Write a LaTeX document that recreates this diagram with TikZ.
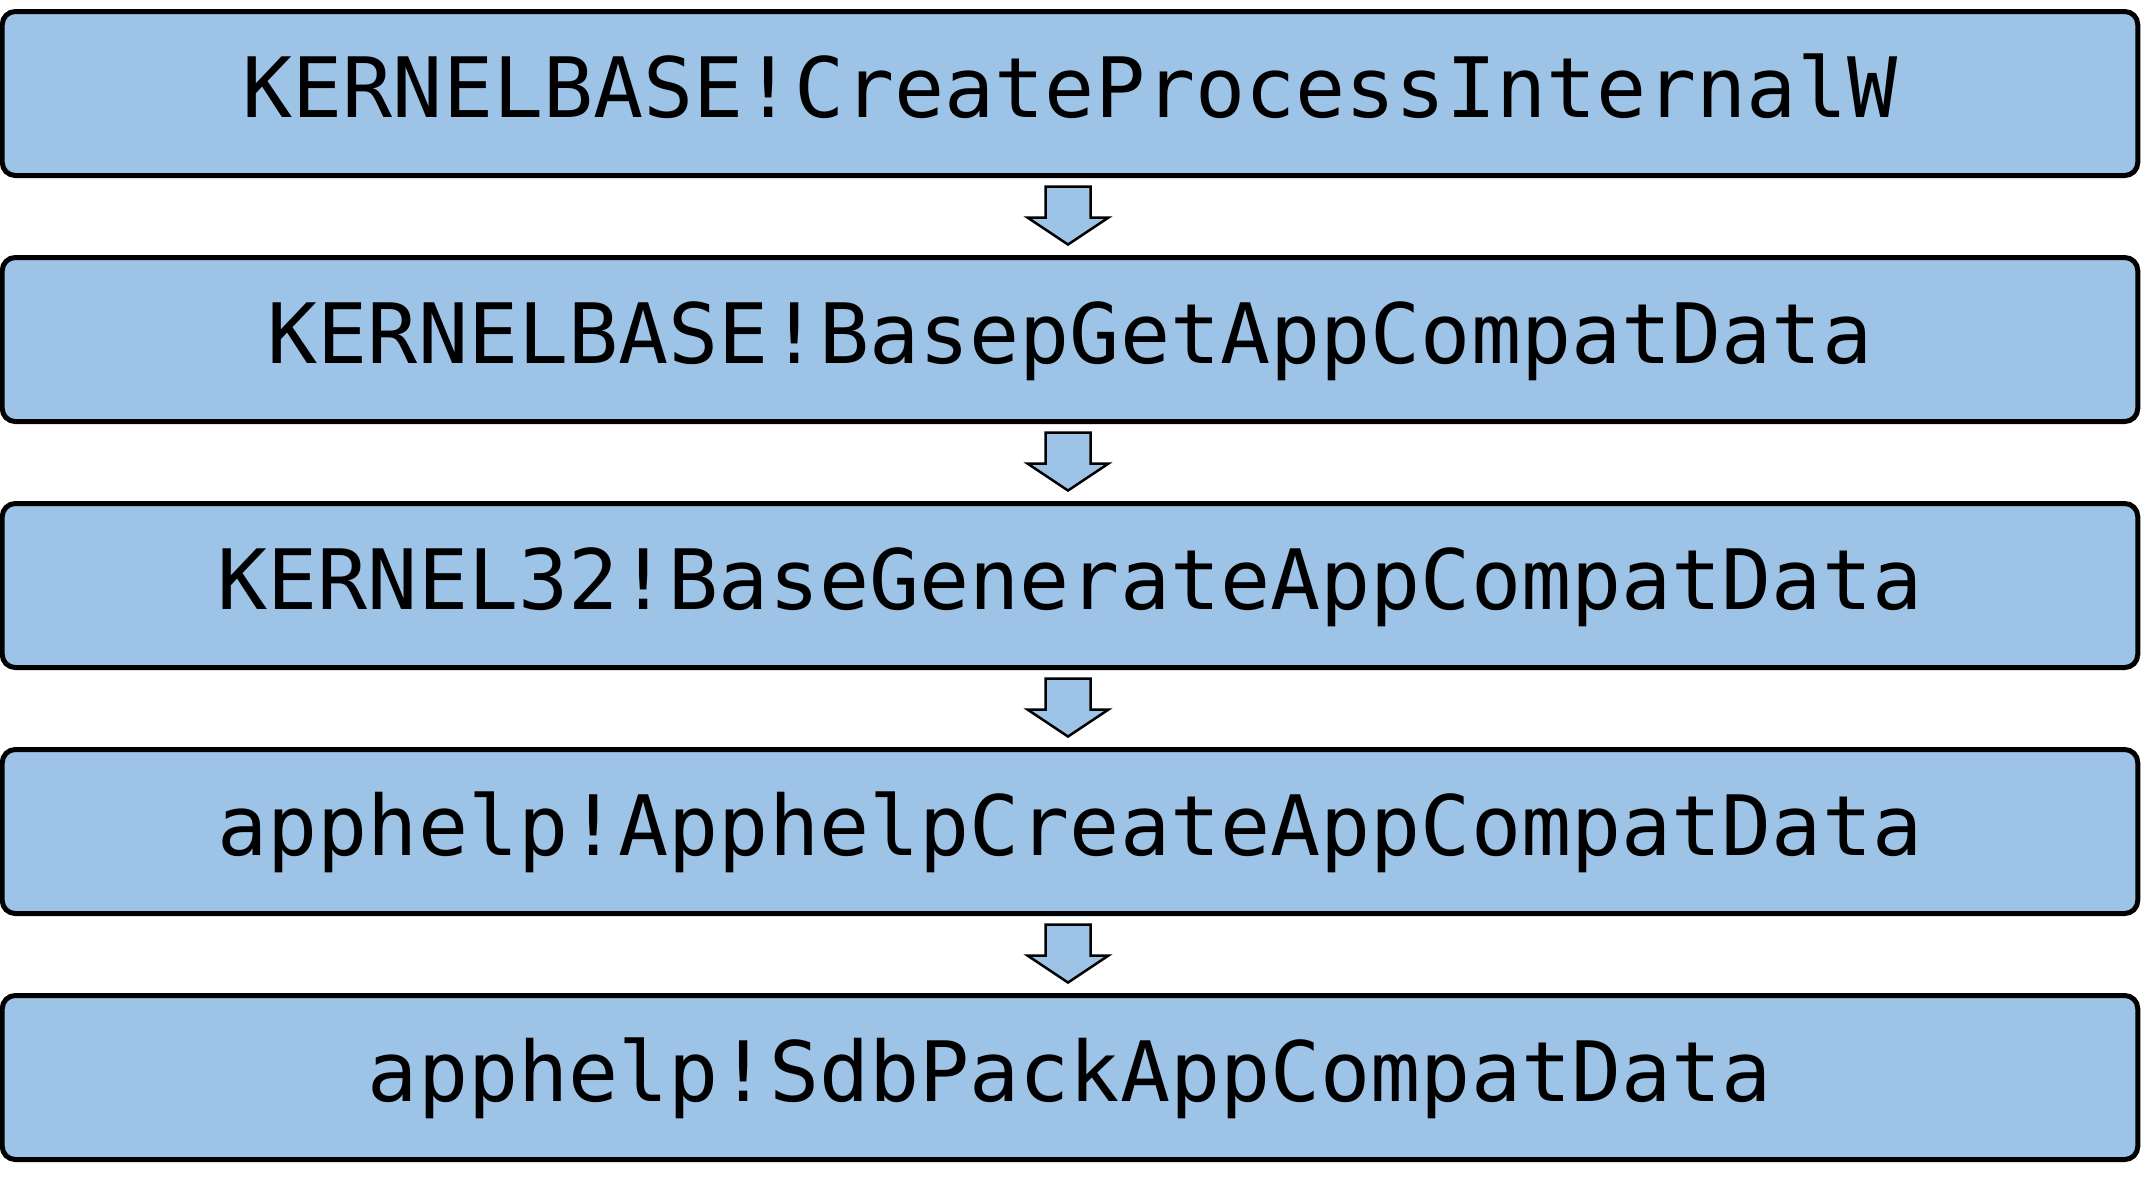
\documentclass[tikz,border=0pt]{standalone}
\usepackage{fontspec}
\newfontfamily\codefont{DejaVu Sans Mono}
\usetikzlibrary{calc}
\definecolor{boxblue}{RGB}{157,195,230}
\tikzset{
  callbox/.style={draw=black, line width=0.05cm, fill=boxblue, rounded corners=0.13cm,
    minimum width=21.355cm, minimum height=1.64cm, inner sep=0pt,
    text height=0.6cm, text depth=0.12cm,
    font=\codefont\fontsize{23.7}{28}\selectfont},
  blockarrow/.style={draw=black, line width=0.025cm, fill=boxblue, line join=miter}
}
\newcommand{\downarrowblock}[2]{%
  \draw[blockarrow] ($(#1.south)+(-0.245,-0.085)$) -- ($(#1.south)+(0.205,-0.085)$)
    -- ($(#1.south)+(0.205,-0.395)$) -- ($(#1.south)+(0.385,-0.395)$)
    -- ($(#2.north)+(-0.02,0.105)$)
    -- ($(#1.south)+(-0.425,-0.395)$) -- ($(#1.south)+(-0.245,-0.395)$) -- cycle;}
\begin{document}
\begin{tikzpicture}
\useasboundingbox (0,0) rectangle (21.45,-11.82);
\node[callbox] (b1) at (10.70,-0.935) {KERNELBASE!CreateProcessInternalW};
\node[callbox] (b2) at (10.70,-3.395) {KERNELBASE!BasepGetAppCompatData};
\node[callbox] (b3) at (10.70,-5.855) {KERNEL32!BaseGenerateAppCompatData};
\node[callbox] (b4) at (10.70,-8.315) {apphelp!ApphelpCreateAppCompatData};
\node[callbox] (b5) at (10.70,-10.775) {apphelp!SdbPackAppCompatData};
\downarrowblock{b1}{b2}
\downarrowblock{b2}{b3}
\downarrowblock{b3}{b4}
\downarrowblock{b4}{b5}
\end{tikzpicture}
\end{document}
